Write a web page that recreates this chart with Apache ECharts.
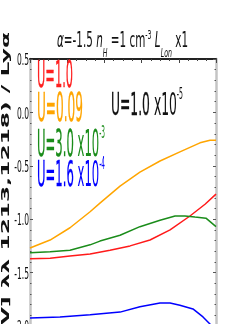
<!DOCTYPE html>
<html><head><meta charset="utf-8">
<script src="https://cdn.jsdelivr.net/npm/echarts@6/dist/echarts.min.js"></script>
<style>html,body{margin:0;padding:0;background:#fff}#c{width:240px;height:324px}</style>
</head><body><div id="c"></div>
<script>
// ---- data ----
const redX = [0,10.8,21.5,32.3,43,53.8,64.5,75.3,86,94.1,100];
const redY = [-1.37,-1.365,-1.345,-1.325,-1.29,-1.25,-1.195,-1.10,-0.97,-0.86,-0.765];
const orangeX = [0,10.8,21.5,32.3,37.6,48.4,59.1,69.9,80.6,91.4,96.8,100];
const orangeY = [-1.27,-1.195,-1.08,-0.93,-0.85,-0.69,-0.56,-0.455,-0.37,-0.285,-0.26,-0.26];
const greenX = [0,10.8,21.5,32.3,37.6,48.4,59.1,69.9,78,83.3,88.7,94.6,100];
const greenY = [-1.315,-1.305,-1.29,-1.24,-1.205,-1.15,-1.07,-1.01,-0.97,-0.97,-0.98,-0.99,-1.07];
const blueX = [0,16.1,32.3,48.4,59.1,69.9,75.3,80.6,87.6,93,97.8,100];
const blueY = [-1.925,-1.915,-1.895,-1.87,-1.82,-1.785,-1.785,-1.805,-1.84,-1.915,-2.0,-2.05];
const yTicks = [0.5,0.0,-0.5,-1.0,-1.5,-2.0];
const yTickLabels = ['0.5','0.0','-0.5','-1.0','-1.5','-2.0'];
const legendTexts = ['U=1.0','U=0.09','U=3.0','U=1.6','U=1.0'];
const legendExps = ['','','-3','-4','-5'];
const yAxisName = 'log([NV] λλ 1213,1218) / Lyα';

const FAM = '"DejaVu Sans"';
const zip = (a,b)=>a.map((v,i)=>[v,b[i]]);
const chart = echarts.init(document.getElementById('c'), null, {renderer:'canvas'});

const yAxisBase = {
  type:'value', min:-2.5, max:0.5, interval:0.5,
  axisLine:{show:true, lineStyle:{color:'#c4c4c4', width:2.5}},
  axisTick:{show:true, inside:true, length:3, lineStyle:{color:'#555', width:1}},
  minorTick:{show:true, splitNumber:5, length:1.5, lineStyle:{color:'#555', width:1}},
  axisLabel:{show:false}, splitLine:{show:false}
};
const line = (x,y,c)=>({type:'line', data:zip(x,y), showSymbol:false, smooth:false,
  lineStyle:{color:c, width:1.5}, itemStyle:{color:c}, z:3});

chart.setOption({
  animation:false,
  grid:{left:30, top:59, width:186, height:320.4, containLabel:false, outerBoundsMode:'none'},
  xAxis:{type:'value', min:0, max:100, interval:20, position:'top',
    axisLine:{show:true, onZero:false, lineStyle:{color:'#222', width:2}},
    axisTick:{show:true, inside:true, length:4, lineStyle:{color:'#444'}},
    minorTick:{show:true, splitNumber:4, length:2, lineStyle:{color:'#444'}},
    axisLabel:{show:false}, splitLine:{show:false}},
  yAxis:[Object.assign({position:'left'}, yAxisBase), Object.assign({position:'right'}, yAxisBase)],
  series:[line(redX,redY,'#ff1a1a'), line(orangeX,orangeY,'#ffa500'), line(greenX,greenY,'#1a8c1a'), line(blueX,blueY,'#0000ff')]
});

// ---- text helpers ----
const mctx = document.createElement('canvas').getContext('2d');
function tw(t, fs, st, wt){ mctx.font = (st||'normal')+' '+(wt||'normal')+' '+fs+'px '+FAM; return mctx.measureText(t).width; }
function label(parts, left, capCenter, capH, width){
  const fs = capH/0.729;
  const ws = parts.map(p=>tw(p.t, fs*(p.rel||1), p.st, p.wt));
  const total = ws.reduce((a,b)=>a+b,0);
  const s = width/total;
  let cum = 0; const out = [];
  parts.forEach((p,i)=>{
    out.push({type:'text', x:left+cum*s, y:capCenter-(p.rise||0)*capH, scaleX:s, z:10,
      style:{text:p.t, fontSize:fs*(p.rel||1), fontFamily:FAM, fontStyle:p.st||'normal', fontWeight:p.wt||'normal',
        fill:p.c, stroke:p.sw?p.c:null, lineWidth:p.sw||0, align:'left', verticalAlign:'middle'}});
    cum += ws[i];
  });
  return out;
}
const g = [];
// title
g.push(...label([
  {t:'α', st:'italic', c:'#111'}, {t:'=-1.5 ', c:'#111'}, {t:'n', st:'italic', c:'#111'},
  {t:'H', st:'italic', rel:0.6, rise:-0.8, c:'#111'}, {t:' =1 cm', c:'#111'},
  {t:'-3', rel:0.6, rise:0.35, c:'#111'}, {t:' '}, {t:'L', st:'italic', c:'#111'},
  {t:'Lon', st:'italic', rel:0.6, rise:-0.8, c:'#111'}, {t:' x1', c:'#111'}
], 57, 41.5, 15, 131));
// legend
const legCols = ['#ff2020','#ffa500','#1a8c1a','#0000ff','#111'];
const legPos = [[37,77.5,27,36],[37,111,28,46],[37,146.5,27,68],[37,177,26,68],[111,106.5,23,72]];
legendTexts.forEach((t,i)=>{
  const c = legCols[i], p = legPos[i];
  const parts = [{t:t, c:c, sw:0.35}];
  if (legendExps[i]) { parts.push({t:' x10', c:c}); parts.push({t:legendExps[i], c:c, rel:0.5, rise:0.5}); }
  g.push(...label(parts, p[0], p[1], p[2], p[3]));
});
// y tick labels
const tfs = 11.5/0.729;
const ts = 12/tw('0.5', tfs);
yTicks.forEach((v,i)=>{
  const py = chart.convertToPixel({yAxisIndex:0}, v);
  g.push({type:'text', x:29, y:py+2, scaleX:ts, z:10,
    style:{text:yTickLabels[i], fontSize:tfs, fontFamily:FAM, fill:'#111', align:'right', verticalAlign:'middle'}});
});
// y axis name (rotated)
const nfs = 10;
const sub = yAxisName.slice(yAxisName.indexOf(']'));
const ns = 275/tw(sub, nfs, 'normal', 'bold');
g.push({type:'text', x:6.5, y:32, rotation:Math.PI/2, scaleX:ns, z:10,
  style:{text:yAxisName, fontSize:nfs, fontFamily:FAM, fontWeight:'bold', fill:'#111', align:'right', verticalAlign:'middle'}});

chart.setOption({graphic:g});
</script></body></html>
